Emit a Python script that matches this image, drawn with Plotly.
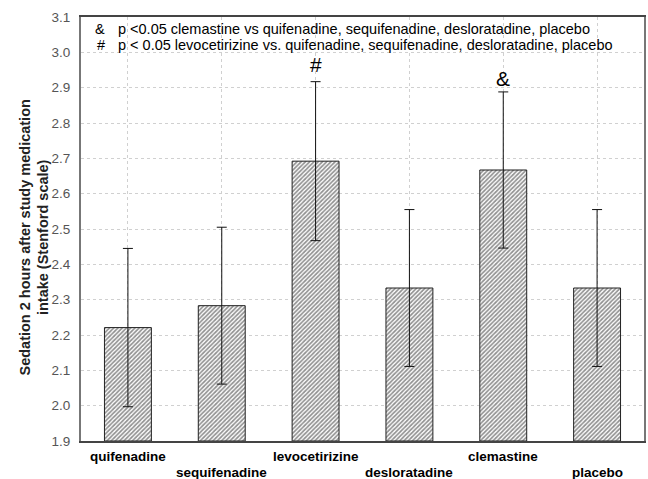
import plotly.graph_objects as go

categories = ["quifenadine", "sequifenadine", "levocetirizine", "desloratadine", "clemastine", "placebo"]
means = [2.221, 2.283, 2.692, 2.333, 2.667, 2.333]
errors = [0.224, 0.222, 0.225, 0.222, 0.221, 0.222]
marks = {"levocetirizine": ("#", 2.965), "clemastine": ("&", 2.925)}
y_ticks = [1.9, 2.0, 2.1, 2.2, 2.3, 2.4, 2.5, 2.6, 2.7, 2.8, 2.9, 3.0, 3.1]
note_symbols = ["&", "#"]
notes = [
    "p <0.05 clemastine vs quifenadine, sequifenadine, desloratadine, placebo",
    "p < 0.05 levocetirizine vs. quifenadine, sequifenadine, desloratadine, placebo",
]
y_title = "Sedation 2 hours after study medication<br>intake (Stenford scale)"

FONT = "Liberation Sans, Arial"

fig = go.Figure()
fig.add_trace(go.Bar(
    x=categories, y=[m - 1.9 for m in means], base=1.9,
    width=0.5,
    marker=dict(color="white", line=dict(color="#222222", width=1),
                pattern=dict(shape="/", fgcolor="#222222", bgcolor="white", size=3, solidity=0.55)),
    error_y=dict(type="data", array=errors, color="#111111", thickness=1, width=5),
    hoverinfo="skip",
))

for cat, (sym, yv) in marks.items():
    fig.add_annotation(x=cat, y=yv, text=sym, showarrow=False,
                       font=dict(family=FONT, size=21, color="black"))

for i, (s, n) in enumerate(zip(note_symbols, notes)):
    fig.add_annotation(xref="paper", yref="paper", x=0, xshift=12 + i * 2, y=1, yshift=-12 - i * 16,
                       xanchor="left", yanchor="middle",
                       text=s, showarrow=False,
                       font=dict(family=FONT, size=14.5, color="black"))
    fig.add_annotation(xref="paper", yref="paper", x=0, xshift=35, y=1, yshift=-12 - i * 16,
                       xanchor="left", yanchor="middle",
                       text=n, showarrow=False,
                       font=dict(family=FONT, size=14.5, color="black"))

for i, c in enumerate(categories):
    fig.add_annotation(x=c, xref="x", yref="paper", y=0, yshift=-15 - (i % 2) * 16,
                       yanchor="middle", text="<b>" + c + "</b>", showarrow=False,
                       font=dict(family=FONT, size=13.5, color="black"))

fig.add_annotation(xref="paper", yref="paper", x=0, xshift=-28, y=0.5, yshift=-9,
                   xanchor="right", yanchor="middle", textangle=-90,
                   text="<b>" + y_title + "</b>", showarrow=False,
                   font=dict(family=FONT, size=14.5, color="#222222"))

fig.update_layout(
    width=648, height=479,
    margin=dict(l=81, r=4, t=17, b=38),
    paper_bgcolor="white", plot_bgcolor="white",
    showlegend=False,
    font=dict(family=FONT, color="black"),
)
fig.update_xaxes(
    tickmode="array", tickvals=categories, showticklabels=False,
    showgrid=True, gridcolor="#d0d0d0", griddash="dot", gridwidth=1,
    showline=True, linecolor="#444444", linewidth=1.5, mirror=True,
    ticks="", range=[-0.5, 5.5], automargin=False,
)
fig.update_yaxes(
    range=[1.9, 3.1], tickmode="array", tickvals=y_ticks,
    ticktext=[f"{v:.1f}" for v in y_ticks],
    tickfont=dict(size=13.5, color="#555555", family=FONT),
    ticklabelstandoff=6,
    showgrid=True, gridcolor="#d0d0d0", griddash="dot", gridwidth=1,
    showline=True, linecolor="#777777", linewidth=2, mirror=True,
    ticks="", zeroline=False, automargin=False,
)
fig.write_html(
    "out.html",
    config={"responsive": False, "displayModeBar": False},
    post_script="document.body.style.margin='0';document.body.style.padding='0';"
                "document.body.style.overflow='hidden';",
)
